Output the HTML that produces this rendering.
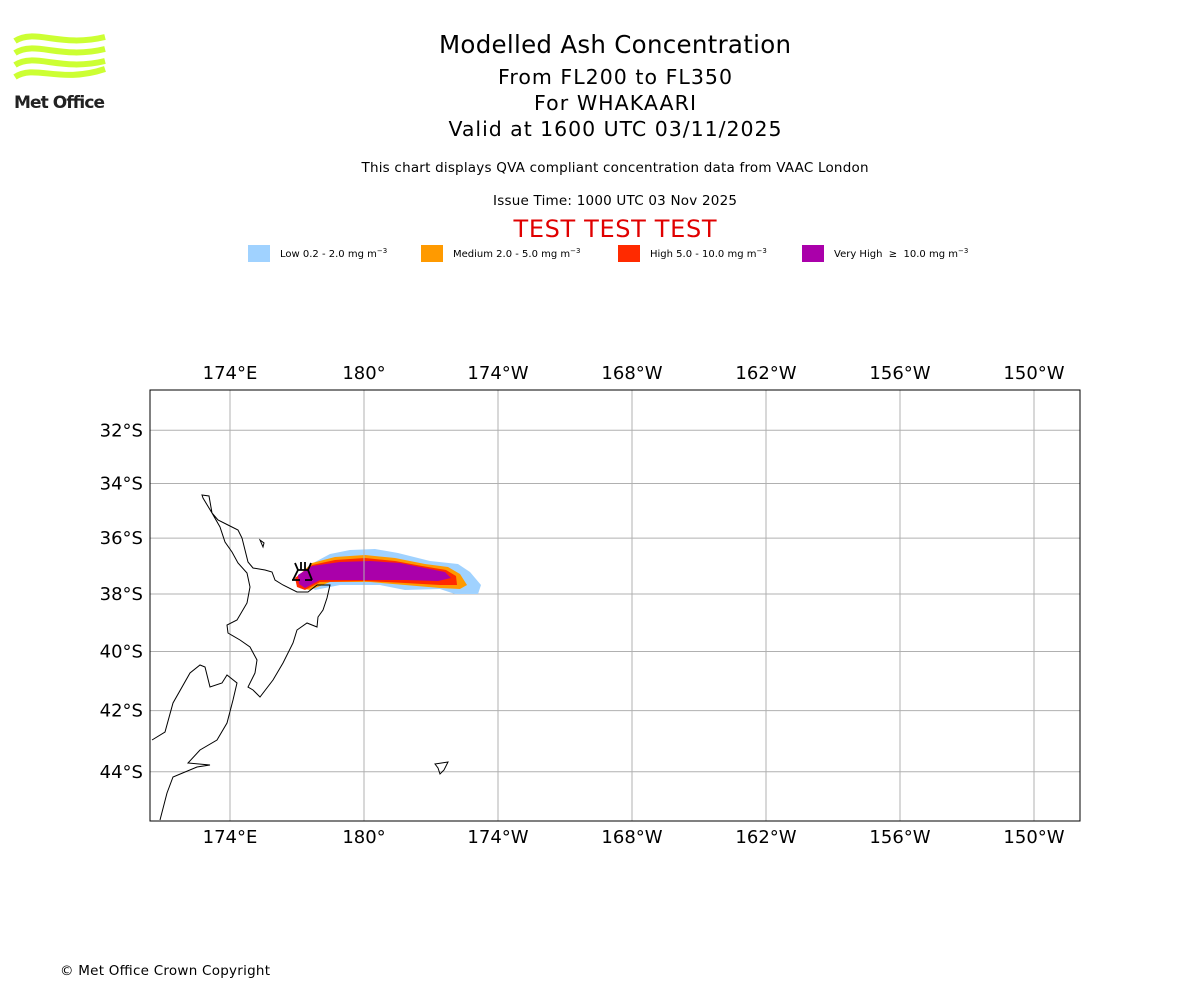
<!DOCTYPE html>
<html><head><meta charset="utf-8"><style>
body{margin:0;background:#fff;width:1200px;height:1000px;overflow:hidden;font-family:"DejaVu Sans","Liberation Sans",sans-serif}
svg text{font-family:"DejaVu Sans","Liberation Sans",sans-serif}
</style></head><body>
<svg id="c" width="1200" height="1000" xmlns="http://www.w3.org/2000/svg">
<g fill="none" stroke="#ccff33" stroke-width="6">
<path d="M15 41 C35 28, 60 48, 105 37"/>
<path d="M15 53 C35 40, 60 60, 105 49"/>
<path d="M15 65 C35 52, 60 72, 105 61"/>
<path d="M15 77 C35 64, 60 84, 105 69"/>
</g>
<text x="14" y="108" font-size="17" font-weight="bold" fill="#222" textLength="91">Met Office</text>
<text x="615" y="53" font-size="24.5" text-anchor="middle" textLength="352">Modelled Ash Concentration</text>
<text x="615" y="84" font-size="20.5" text-anchor="middle" textLength="234">From FL200 to FL350</text>
<text x="615" y="110" font-size="20.5" text-anchor="middle" textLength="162">For WHAKAARI</text>
<text x="615" y="136" font-size="20.5" text-anchor="middle" textLength="333">Valid at 1600 UTC 03/11/2025</text>
<text x="615" y="172" font-size="13.5" text-anchor="middle" textLength="507">This chart displays QVA compliant concentration data from VAAC London</text>
<text x="615" y="205" font-size="13.5" text-anchor="middle" textLength="244">Issue Time: 1000 UTC 03 Nov 2025</text>
<text x="615" y="237" font-size="24" text-anchor="middle" fill="#e00000" textLength="203">TEST TEST TEST</text>
<g id="legend"></g>
<g id="map"></g>
<text x="60" y="975" font-size="13.5" textLength="210">© Met Office Crown Copyright</text>
</svg>
<script>
const lonTicks=[174,180,186,192,198,204,210];
const lonLabels=["174°E","180°","174°W","168°W","162°W","156°W","150°W"];
const latTicks=[-32,-34,-36,-38,-40,-42,-44];
const latLabels=["32°S","34°S","36°S","38°S","40°S","42°S","44°S"];
const legendLabels=["Low 0.2 - 2.0 mg m","Medium 2.0 - 5.0 mg m","High 5.0 - 10.0 mg m","Very High  \u2265  10.0 mg m"];
const legendColors=["#a0d2ff","#ff9a00","#ff2a00","#aa00aa"];
const NS="http://www.w3.org/2000/svg";
const svg=document.getElementById('c');
function el(t,a,p){const e=document.createElementNS(NS,t);for(const k in a)e.setAttribute(k,a[k]);(p||svg).appendChild(e);return e;}
const X0=150,X1=1080,Y0=390,Y1=821;
const kx=134/6;
function xs(lon){return 364+(lon-180)*kx;}
const K=kx*180/Math.PI;
function merc(lat){const r=lat*Math.PI/180;return Math.log(Math.tan(Math.PI/4+r/2));}
function ys(lat){return 594-K*(merc(lat)-merc(-38));}
const lg=document.getElementById('legend');
const lx=[248,421,618,802];
legendLabels.forEach((l,i)=>{
 const r=el('rect',{x:lx[i],y:245,width:22,height:17,fill:legendColors[i]},lg);
 
 
 const t=el('text',{x:lx[i]+32,y:257,'font-size':10,'xml:space':'preserve'},lg);
 t.style.whiteSpace='pre';
 t.textContent=l;
 const s=el('tspan',{dy:-4,'font-size':7},t);s.textContent='\u22123';
 
 
});
const m=document.getElementById('map');
lonTicks.forEach((v,i)=>{
 const x=xs(v);
 const g=el('line',{x1:x,x2:x,y1:Y0,y2:Y1,stroke:'#b0b0b0','stroke-width':1},m);
 
 
 [379,843].forEach(y=>{const t=el('text',{x:x,y:y,'font-size':18,'text-anchor':'middle'},m);t.textContent=lonLabels[i];
 
 });
});
latTicks.forEach((v,i)=>{
 const y=ys(v);
 const g=el('line',{x1:X0,x2:X1,y1:y,y2:y,stroke:'#b0b0b0','stroke-width':1},m);
 
 
 const t=el('text',{x:143,y:y+6,'font-size':18,'text-anchor':'end'},m);t.textContent=latLabels[i];
 
 
});
const plumes=[
 ["#a0d2ff","M303,580 L315,562 L330,554 L350,550 L375,549 L398,553 L430,561 L458,564 L470,572 L481,585 L478,594 L455,594 L440,589 L405,590 L380,585 L340,585 L315,590 Z"],
 ["#ff9a00","M296,578 L312,563 L335,557 L365,555 L395,558 L425,564 L448,567 L460,574 L467,585 L460,589 L440,588 L405,585 L370,582 L330,582 L310,590 L300,588 Z"],
 ["#ff2a00","M295,578 L312,565 L335,560 L365,558 L395,561 L422,566 L446,570 L456,576 L457,585 L440,585 L405,583 L365,581 L320,582 L305,590 L297,587 Z"],
 ["#aa00aa","M298,575 L312,566 L340,562 L370,561 L400,563 L425,568 L445,572 L451,578 L438,581 L405,580 L365,580 L320,580 L305,588 L299,584 Z"]];
plumes.forEach(p=>{const e=el('path',{d:p[1],fill:p[0]},m);
 
 });
el('line',{x1:364,x2:364,y1:548,y2:590,stroke:'#b0b0b0','stroke-width':1},m);
const ni="M202,495 L209,496 L212,513 L218,520 L228,525 L238,530 L242,538 L245,550 L248,562 L253,568 L265,570 L272,572 L275,580 L283,585 L297,592 L308,592 L317,585 L330,585 L327,598 L323,610 L318,617 L317,627 L307,623 L297,630 L293,643 L283,663 L273,680 L260,697 L253,690 L248,687 L255,673 L257,660 L250,647 L240,640 L228,633 L227,625 L237,620 L247,603 L250,587 L247,573 L238,563 L232,552 L225,542 L220,527 L212,513 L203,498 Z";
const si="M152,740 L165,732 L173,703 L190,673 L200,665 L205,667 L210,687 L222,683 L227,675 L237,683 L233,700 L227,723 L217,740 L200,750 L188,763 L210,765 L197,767 L173,777 L167,793 L160,820";
[ni,si,"M435,764 L448,762 L444,770 L440,774 L438,768 Z","M260,540 L264,543 L263,547 Z"].forEach(d=>{const e=el('path',{d:d,fill:'none',stroke:'#000','stroke-width':1},m);
 
 });
const v=el('path',{d:"M295,563 L298,570 L308,570 L311,563 M301,562 L301,570 M305,562 L305,570 M298,570 L293,580 M308,570 L312,580 M292,580 L300,580 M305,580 L312,580",stroke:'#000','stroke-width':1.8,fill:'none'},m);


const fr=el('rect',{x:X0,y:Y0,width:X1-X0,height:Y1-Y0,fill:'none',stroke:'#000','stroke-width':1},m);


</script>
</body></html>
